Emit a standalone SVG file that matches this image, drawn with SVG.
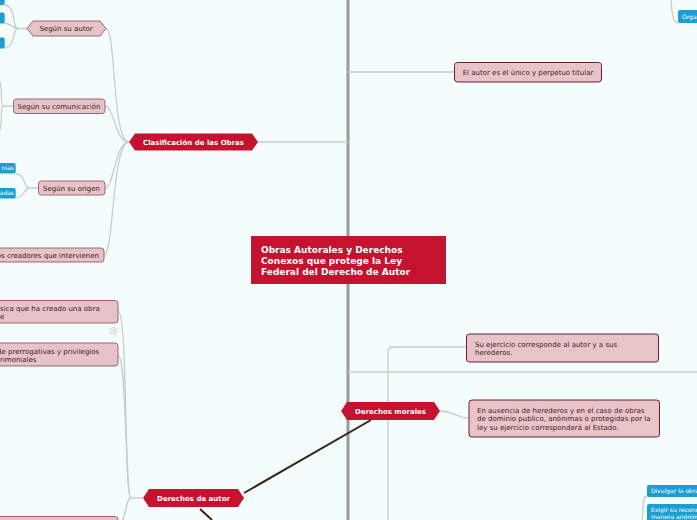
<svg xmlns="http://www.w3.org/2000/svg" width="697" height="520" viewBox="0 0 697 520">
<style>
.bg{fill:#f3fefc}
.trunk{stroke:#9a9a9a;stroke-width:3;fill:none}
.con{stroke:#c9cccb;stroke-width:1.3;fill:none}
.dark{stroke:#3a2216;stroke-width:2;fill:none}
.hex{fill:#c4122f}
.pinkL{fill:#e6c3c8;stroke:#a8606e;stroke-width:1}
.pinkR{fill:#e8c4c9;stroke:#6e1c30;stroke-width:1}
.blue{fill:#1c9fd0}
.t{font-family:"DejaVu Sans",Verdana,sans-serif;font-size:7px;fill:#4a1623}
.tw{font-family:"DejaVu Sans",Verdana,sans-serif;font-size:7px;font-weight:bold;fill:#ffffff}
.tb{font-family:"DejaVu Sans",Verdana,sans-serif;font-size:6px;fill:#ffffff}
.tc{font-family:"DejaVu Sans",Verdana,sans-serif;font-size:9px;font-weight:bold;fill:#ffffff}
</style>
<rect class="bg" x="0" y="0" width="697" height="520"/>
<g id="connectors">
  <path class="trunk" d="M348,0 L348,236 M348,284 L348,520"/>
  <path class="con" d="M348,72 L454,72"/>
  <path class="con" d="M348,372 L697,372"/>
  <path class="con" d="M258,142 L348,142"/>
  <path class="con" d="M129,142 C112,142 116,28 106,28.5"/>
  <path class="con" d="M129,142 C115,142 114,106 105,106"/>
  <path class="con" d="M129,142 C115,142 114,188 105,188"/>
  <path class="con" d="M129,142 C112,142 114,255 104,255"/>
  <path class="con" d="M27,28.5 L18,28.5 C12,28.5 16,5 4,5"/>
  <path class="con" d="M18,28.5 C13,28.5 11,23 4,23"/>
  <path class="con" d="M18,28.5 C12,28.5 16,48 4,48"/>
  <path class="con" d="M13,106 L3,106 M3,106 C0,106 3,86 -1,80 M3,106 C0,106 3,126 -1,132"/>
  <path class="con" d="M38,188 L29,188 C24,188 25,173 15,173.5"/>
  <path class="con" d="M29,188 C24,188 25,198 15,198"/>
  <path class="con" d="M143,498 L131,498 C124,498 128,311 118,311"/>
  <path class="con" d="M131,498 C125,498 127,355 118,355"/>
  <path class="con" d="M131,498 C125,498 126,525 118,525"/>
  <path class="con" d="M388,411 L388,352 Q388,347 393,347 L466,347"/>
  <path class="con" d="M388,420 L388,520"/>
  <path class="con" d="M440,411 C455,411 455,418 469,418"/>
  <path class="con" d="M671,0 C672,12 672,23 679,23"/>
  <path class="con" d="M647,496 C642,496 644,510 642,520"/>
  <path class="dark" d="M244,493 L371,420"/>
  <path class="dark" d="M200,509 L212,520"/>
</g>
<g id="center">
  <rect x="251" y="236" width="195" height="48" fill="#c5122f"/>
  <text class="tc" x="261" y="253">Obras Autorales y Derechos</text>
  <text class="tc" x="261" y="264">Conexos que protege la Ley</text>
  <text class="tc" x="261" y="275">Federal del Derecho de Autor</text>
</g>
<g id="clasificacion">
  <polygon class="hex" points="129,142 135,133.5 252,133.5 258,142 252,150.5 135,150.5"/>
  <text class="tw" x="193.5" y="144.5" text-anchor="middle">Clasificación de las Obras</text>
</g>
<g id="segun-autor">
  <polygon class="pinkL" points="27,28.5 33,21 100,21 106,28.5 100,36 33,36"/>
  <text class="t" x="66" y="31" text-anchor="middle">Según su autor</text>
</g>
<g id="autor-hijo-1"><rect class="blue" x="-4" y="-6" width="8.7" height="11" rx="2"/></g>
<g id="autor-hijo-2"><rect class="blue" x="-4" y="12.5" width="8.7" height="11" rx="2"/></g>
<g id="autor-hijo-3"><rect class="blue" x="-4" y="37.5" width="8.7" height="11" rx="2"/></g>
<g id="segun-comunicacion">
  <rect class="pinkL" x="13.5" y="99" width="91.5" height="14.5" rx="3"/>
  <text class="t" x="59" y="108.7" text-anchor="middle">Según su comunicación</text>
</g>
<g id="segun-origen">
  <rect class="pinkL" x="38.5" y="181" width="66.5" height="14" rx="3"/>
  <text class="t" x="71.5" y="190.5" text-anchor="middle">Según su origen</text>
</g>
<g id="origen-hijo-1">
  <rect class="blue" x="-4" y="163" width="19.7" height="10.5" rx="2"/>
  <text class="tb" x="14" y="170.3" text-anchor="end">nias</text>
</g>
<g id="origen-hijo-2">
  <rect class="blue" x="-4" y="188" width="19.7" height="10.5" rx="2"/>
  <text class="tb" x="14" y="195.3" text-anchor="end">adas</text>
</g>
<g id="segun-creadores">
  <rect class="pinkL" x="-4" y="248" width="108" height="14" rx="3"/>
  <text class="t" x="99" y="257.5" text-anchor="end">os creadores que intervienen</text>
</g>
<g id="autor-titular">
  <rect class="pinkR" x="454.5" y="62.5" width="147" height="19.5" rx="3"/>
  <text class="t" x="528" y="74.5" text-anchor="middle">El autor es el único y perpetuo titular</text>
</g>
<g id="orga">
  <rect class="blue" x="678" y="10" width="24" height="13" rx="2"/>
  <text class="tb" x="682" y="18.5">Orga</text>
</g>
<g id="derechos-morales">
  <polygon class="hex" points="341,411 347,402 434,402 440,411 434,420 347,420"/>
  <text class="tw" x="390.5" y="413.5" text-anchor="middle">Derechos morales</text>
</g>
<g id="su-ejercicio">
  <rect class="pinkR" x="466.5" y="334" width="192" height="28" rx="3"/>
  <text class="t" x="475" y="346.5">Su ejercicio corresponde al autor y a sus</text>
  <text class="t" x="475" y="354.5">herederos.</text>
</g>
<g id="en-ausencia">
  <rect class="pinkR" x="469" y="400" width="190.5" height="37" rx="3"/>
  <text class="t" x="477" y="412.5">En ausencia de herederos y en el caso de obras</text>
  <text class="t" x="477" y="421">de dominio publico, anónimas o protegidas por la</text>
  <text class="t" x="477" y="429.5">ley su ejercicio corresponderá al Estado.</text>
</g>
<g id="divulgar">
  <rect class="blue" x="647" y="485" width="55" height="12" rx="2"/>
  <text class="tb" x="651" y="493.3">Divulgar la obra</text>
</g>
<g id="exigir">
  <rect class="blue" x="647" y="504" width="55" height="20" rx="2"/>
  <text class="tb" x="651" y="512">Exigir su reconocimiento</text>
  <text class="tb" x="651" y="519">manera anónima</text>
</g>
<g id="derechos-autor">
  <polygon class="hex" points="143,498 149,489 238,489 244,498 238,507 149,507"/>
  <text class="tw" x="193.5" y="500.5" text-anchor="middle">Derechos de autor</text>
</g>
<g id="persona-fisica">
  <rect class="pinkL" x="-4" y="300.5" width="122" height="22.5" rx="3"/>
  <text class="t" x="0" y="310.5">sica que ha creado una obra</text>
  <text class="t" x="0" y="318.5">e</text>
</g>
<g id="badge">
  <circle cx="113.5" cy="331" r="3.6" fill="#f3fefc" stroke="#c9cccb" stroke-width="0.8"/>
  <text x="113.5" y="333" text-anchor="middle" font-family="DejaVu Sans, sans-serif" font-size="5" fill="#aaaaaa">3</text>
</g>
<g id="prerrogativas">
  <rect class="pinkL" x="-4" y="343" width="122" height="23" rx="3"/>
  <text class="t" x="-3" y="354">de prerrogativas y privilegios</text>
  <text class="t" x="0" y="362">rimoniales</text>
</g>
<g id="abajo-izq">
  <rect class="pinkL" x="-4" y="516.5" width="122" height="10" rx="3"/>
</g>
</svg>
